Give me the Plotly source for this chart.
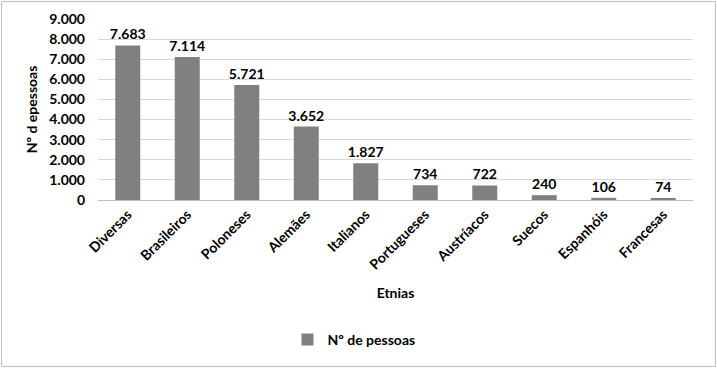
import plotly.graph_objects as go

categories = ["Diversas", "Brasileiros", "Poloneses", "Alemães", "Italianos",
              "Portugueses", "Austríacos", "Suecos", "Espanhóis", "Francesas"]
values = [7683, 7114, 5721, 3652, 1827, 734, 722, 240, 106, 74]
y_ticks = [0, 1000, 2000, 3000, 4000, 5000, 6000, 7000, 8000, 9000]

W, H = 717, 368
L, R, T, B = 98, 24, 19, 168
pw, ph = W - L - R, H - T - B

font = "Lato, Carlito, Calibri, sans-serif"

fig = go.Figure(go.Bar(
    x=categories, y=values, name="<b>Nº de pessoas</b>",
    marker=dict(color="#808080", line=dict(width=0)),
    texttemplate="<b>%{y:,}</b>", textposition="outside",
    textfont=dict(family=font, size=14, color="#000000"),
    constraintext="none",
    cliponaxis=False,
))

def px_to_paper_x(px):
    return (px - L) / pw

def px_to_paper_y(py):
    return (H - B - py) / ph

fig.add_shape(type="rect", xref="paper", yref="paper",
              x0=px_to_paper_x(1.5), x1=px_to_paper_x(715.5),
              y0=px_to_paper_y(366.5), y1=px_to_paper_y(1.5),
              line=dict(color="#bfbfbf", width=1), fillcolor="rgba(0,0,0,0)", layer="below")

fig.update_layout(
    width=W, height=H,
    margin=dict(l=L, r=R, t=T, b=B, autoexpand=False),
    paper_bgcolor="white", plot_bgcolor="white",
    separators=",.",
    bargap=0.58,
    font=dict(family=font, size=14, color="#000000"),
    showlegend=True,
    legend=dict(orientation="h", x=px_to_paper_x(354), xanchor="center",
                y=px_to_paper_y(340), yanchor="middle",
                font=dict(family=font, size=14)),
    xaxis=dict(
        automargin=False,
        tickangle=-45, tickfont=dict(family=font, size=14, weight="bold"),
        showline=True, linecolor="#bfbfbf", linewidth=1, ticks="",
        title=dict(text="<b>Etnias</b>", font=dict(family=font, size=14), standoff=16),
    ),
    yaxis=dict(
        automargin=False,
        range=[0, 9000], tickvals=y_ticks, tickformat=",",
        tickfont=dict(family=font, size=14, weight="bold"),
        showgrid=True, gridcolor="#d9d9d9", gridwidth=1, zeroline=False,
        ticks="", ticklabelstandoff=12,
        title=dict(text="<b>Nº d epessoas</b>", font=dict(family=font, size=14), standoff=8),
    ),
)

fig.write_html("out.html", config={"displayModeBar": False},
               post_script="document.body.style.margin='0';")
